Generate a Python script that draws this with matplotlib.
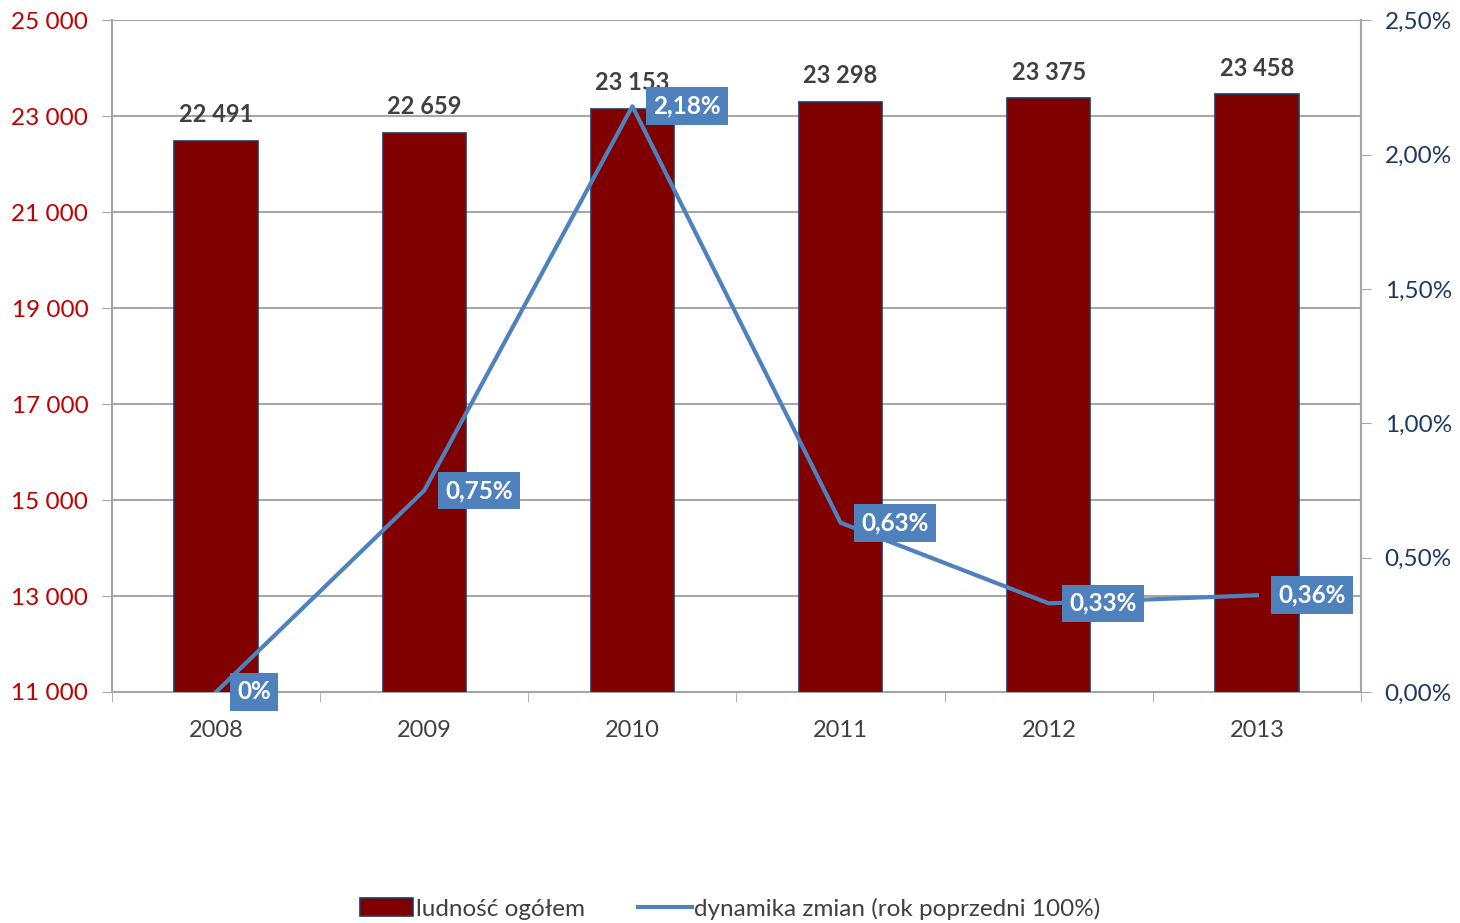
import matplotlib.pyplot as plt
import numpy as np
from matplotlib.ticker import FuncFormatter, MultipleLocator

plt.rcParams['font.family'] = ['Lato', 'DejaVu Sans']

years = ['2008', '2009', '2010', '2011', '2012', '2013']
population = [22491, 22659, 23153, 23298, 23375, 23458]
growth = [0.0, 0.75, 2.18, 0.63, 0.33, 0.36]
growth_labels = ['0%', '0,75%', '2,18%', '0,63%', '0,33%', '0,36%']

bar_color = '#800000'
line_color = '#4f81bd'
grid_color = '#a6a6a6'

fig = plt.figure(figsize=(14.6, 9.23), dpi=100)
ax = fig.add_axes([0.0767, 0.2503, 0.8555, 0.7277])
ax2 = ax.twinx()

x = np.arange(len(years))
ax.bar(x, population, width=0.4, color=bar_color, edgecolor='#1f3864', linewidth=1.2, zorder=3,
       label='ludność ogółem')
for xi, v in zip(x, population):
    ax.annotate('{:,}'.format(v).replace(',', ' '), (xi, v), xytext=(0, 26), textcoords='offset pixels',
                ha='center', va='center', fontsize=17, fontweight='bold', color='#404040', zorder=4)

ax.set_ylim(11000, 25000)
ax.set_yticks(np.arange(11000, 25001, 2000))
ax.yaxis.set_major_formatter(FuncFormatter(lambda v, p: '{:,.0f}'.format(v).replace(',', ' ')))
ax.set_xlim(-0.5, 5.5)
ax.set_xticks(x)
ax.set_xticklabels(years)
ax.set_xticks(np.arange(-0.5, 6, 1), minor=True)
ax.tick_params(axis='x', which='major', length=0, pad=20, labelsize=17, labelcolor='#404040')
ax.tick_params(axis='x', which='minor', length=7, color=grid_color, direction='out')
ax.tick_params(axis='y', length=7, color=grid_color, labelsize=17.5, labelcolor='#c00000', pad=10)
ax.grid(axis='y', color=grid_color, linewidth=1.5, zorder=0)
ax.set_axisbelow(True)
for s in ['left', 'bottom', 'right', 'top']:
    ax.spines[s].set_color(grid_color)
    ax.spines[s].set_linewidth(1.5)
ax.spines['top'].set_visible(False)

ax2.plot(x, growth, color=line_color, linewidth=3, zorder=5, label='dynamika zmian (rok poprzedni 100%)')
ax2.set_ylim(0, 2.5)
ax2.yaxis.set_major_locator(MultipleLocator(0.5))
ax2.yaxis.set_major_formatter(FuncFormatter(lambda v, p: '{:.2f}%'.format(v).replace('.', ',')))
ax2.tick_params(axis='y', length=7, color=grid_color, labelsize=17.5, labelcolor='#1f3864', pad=10)
for s in ['left', 'bottom', 'right', 'top']:
    ax2.spines[s].set_visible(False)
ax2.spines['right'].set_visible(True)
ax2.spines['right'].set_color(grid_color)
ax2.spines['right'].set_linewidth(1.5)

for xi, g, lab in zip(x, growth, growth_labels):
    ax2.annotate(lab, (xi, g), xytext=(21, 0), textcoords='offset pixels', ha='left', va='center',
                 fontsize=17.5, fontweight='bold', color='white', zorder=6,
                 bbox=dict(boxstyle='square,pad=0.3', fc=line_color, ec='none'), annotation_clip=False)

h1, l1 = ax.get_legend_handles_labels()
h2, l2 = ax2.get_legend_handles_labels()
fig.legend(h1 + h2, l1 + l2, loc='lower center', bbox_to_anchor=(0.5, -0.02), ncol=2, frameon=False,
           fontsize=17.5, labelcolor='#404040', handlelength=2.2, handleheight=0.8, handletextpad=0.1,
           columnspacing=2.2)

fig.savefig('out.png', dpi=100)
